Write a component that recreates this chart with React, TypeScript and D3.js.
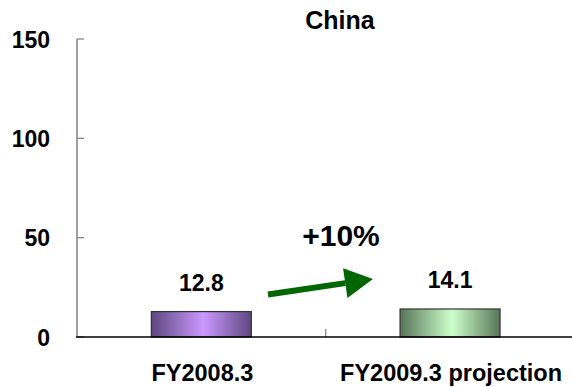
import React from "react";
import * as d3 from "d3";

// Sales in China, FY2008.3 actual vs FY2009.3 projection
const categories = ["FY2008.3", "FY2009.3 projection"];
const values = [12.8, 14.1];
const yTicks = [0, 50, 100, 150];
const title = "China";
const growthLabel = "+10%";

const W = 572;
const H = 387;
const FONT = "'Liberation Sans', Arial, Helvetica, sans-serif";

const gradients = [
  { id: "barPurple", edge: "#5d4780", mid: "#cc99ff" },
  { id: "barGreen", edge: "#587658", mid: "#ccffcc" },
];

export default function App() {
  const y = d3.scaleLinear().domain([0, 150]).range([337, 39]);
  const x = d3.scaleBand<string>().domain(categories).range([77, 574.4]).padding(0);
  const bw = x.bandwidth();
  const barW = bw * 0.402;
  const y0 = y(0);

  // growth arrow between the two bars
  const ax0 = (x(categories[0]) as number) + bw * 0.768;
  const ay0 = y(values[0]) - 17;
  const ax1 = (x(categories[1]) as number) + bw * 0.19;
  const ay1 = y(values[1]) - 30;
  const ang = Math.atan2(ay1 - ay0, ax1 - ax0);
  const headLen = 28;
  const headHalf = 15;
  const bx = ax1 - headLen * Math.cos(ang);
  const by = ay1 - headLen * Math.sin(ang);
  const nx = -Math.sin(ang);
  const ny = Math.cos(ang);
  const head = [
    [ax1, ay1],
    [bx + nx * headHalf, by + ny * headHalf],
    [bx - nx * headHalf, by - ny * headHalf],
  ];

  return (
    <svg
      width={W}
      height={H}
      viewBox={`0 0 ${W} ${H}`}
      style={{ position: "absolute", left: 0, top: 0, background: "#fff" }}
      fontFamily={FONT}
      fontWeight="bold"
    >
      <defs>
        {gradients.map((g) => (
          <linearGradient key={g.id} id={g.id} x1="0" x2="1" y1="0" y2="0">
            <stop offset="0%" stopColor={g.edge} />
            <stop offset="52%" stopColor={g.mid} />
            <stop offset="100%" stopColor={g.edge} />
          </linearGradient>
        ))}
      </defs>

      <text x={340} y={29} textAnchor="middle" fontSize={25} fill="#000">
        {title}
      </text>

      {/* y axis */}
      <line x1={77} x2={77} y1={y(150)} y2={y0} stroke="#808080" strokeWidth={1.5} />
      {yTicks.map((t) => (
        <g key={t}>
          <line x1={77} x2={84} y1={y(t)} y2={y(t)} stroke="#808080" strokeWidth={1.2} />
          <text x={50} y={y(t) + 8.5} textAnchor="end" fontSize={23} fill="#000">
            {t}
          </text>
        </g>
      ))}

      {/* bars */}
      {categories.map((c, i) => {
        const bx0 = (x(c) as number) + (bw - barW) / 2;
        return (
          <g key={c}>
            <rect
              x={bx0}
              y={y(values[i])}
              width={barW}
              height={y0 - y(values[i])}
              fill={`url(#${gradients[i].id})`}
              stroke="#333"
              strokeWidth={1.2}
            />
            <text
              x={bx0 + barW / 2}
              y={y(values[i]) - 21}
              textAnchor="middle"
              fontSize={23}
              fill="#000"
            >
              {values[i].toFixed(1)}
            </text>
            <text
              x={(x(c) as number) + bw / 2 + 1}
              y={381}
              textAnchor="middle"
              fontSize={23.5}
              fill="#000"
            >
              {c}
            </text>
          </g>
        );
      })}

      {/* category separator tick */}
      <line
        x1={x(categories[1]) as number}
        x2={x(categories[1]) as number}
        y1={y0 - 8}
        y2={y0}
        stroke="#808080"
        strokeWidth={1.2}
      />

      {/* x axis */}
      <line x1={76} x2={W} y1={y0} y2={y0} stroke="#000" strokeWidth={1.5} />

      {/* growth arrow */}
      <line x1={ax0} y1={ay0} x2={bx} y2={by} stroke="#006600" strokeWidth={6} />
      <polygon points={head.map((p) => p.join(",")).join(" ")} fill="#006600" />
      <text x={341} y={246} textAnchor="middle" fontSize={30} fill="#000">
        {growthLabel}
      </text>
    </svg>
  );
}
